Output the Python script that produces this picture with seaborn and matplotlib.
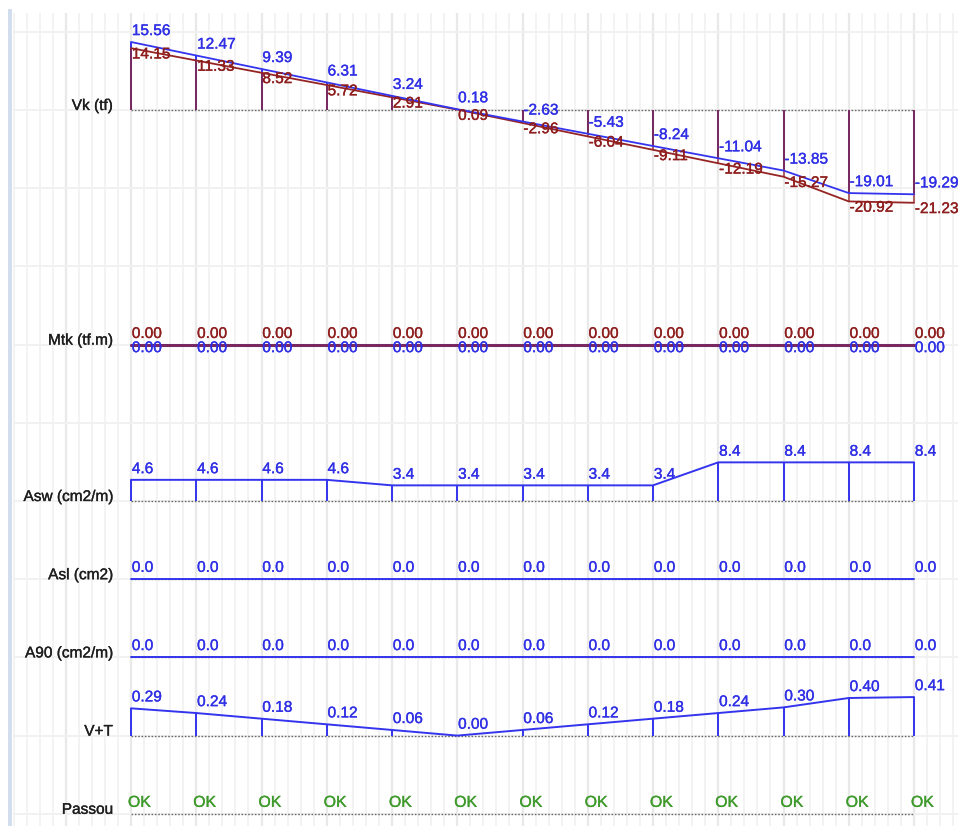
import matplotlib
matplotlib.use("Agg")
import matplotlib.pyplot as plt
import matplotlib.patheffects as pe
import seaborn as sns
import numpy as np
from matplotlib.patches import Rectangle

# ---------------- data ----------------
stations = [0, 1, 2, 3, 4, 5, 6, 7, 8, 9, 10, 11, 12]

vk_design = [15.56, 12.47, 9.39, 6.31, 3.24, 0.18, -2.63, -5.43, -8.24, -11.04, -13.85, -19.01, -19.29]
vk_char = [14.15, 11.33, 8.52, 5.72, 2.91, 0.09, -2.96, -6.04, -9.11, -12.19, -15.27, -20.92, -21.23]
mtk_design = [0.00, 0.00, 0.00, 0.00, 0.00, 0.00, 0.00, 0.00, 0.00, 0.00, 0.00, 0.00, 0.00]
mtk_char = [0.00, 0.00, 0.00, 0.00, 0.00, 0.00, 0.00, 0.00, 0.00, 0.00, 0.00, 0.00, 0.00]
asw = [4.6, 4.6, 4.6, 4.6, 3.4, 3.4, 3.4, 3.4, 3.4, 8.4, 8.4, 8.4, 8.4]
asl = [0.0, 0.0, 0.0, 0.0, 0.0, 0.0, 0.0, 0.0, 0.0, 0.0, 0.0, 0.0, 0.0]
a90 = [0.0, 0.0, 0.0, 0.0, 0.0, 0.0, 0.0, 0.0, 0.0, 0.0, 0.0, 0.0, 0.0]
v_plus_t = [0.29, 0.24, 0.18, 0.12, 0.06, 0.00, 0.06, 0.12, 0.18, 0.24, 0.30, 0.40, 0.41]
passou = ["OK", "OK", "OK", "OK", "OK", "OK", "OK", "OK", "OK", "OK", "OK", "OK", "OK"]

row_titles = ["Vk (tf)", "Mtk (tf.m)", "Asw (cm2/m)", "Asl (cm2)", "A90 (cm2/m)", "V+T", "Passou"]

# ---------------- layout (pixels) ----------------
W, H = 958, 826
X0_PX, DX_PX = 131.0, 65.25          # first station and station spacing
ROW_STEP = 78.2                      # spacing of horizontal guide lines
FIRST_BASE = 110.0                   # baseline of the first row
TITLE_X_PX = 113.0

XMIN = -X0_PX / DX_PX
XMAX = (W - X0_PX) / DX_PX

BLUE = "#3434ee"
BLUE_TXT = "#2f2fe6"
RED = "#962424"
RED_TXT = "#8e1d1d"
GREEN = "#3f9a2c"
DOT = "#6a6a6a"
FS = 11.1


def heavy(color):
    # slightly fuller glyphs, like screen-rendered Arial
    return [pe.withStroke(linewidth=0.25, foreground=color)]


sns.set_theme(style="white")
plt.rcParams["font.family"] = ["Liberation Sans", "DejaVu Sans"]

fig = plt.figure(figsize=(W / 100, H / 100), dpi=100)
fig.patch.set_facecolor("white")

# left frame strip
fig.patches.append(Rectangle((8 / W, 0), 3.5 / W, 1 - 9 / H, transform=fig.transFigure,
                             facecolor="#d2deee", edgecolor="none", zorder=0))

# background guide grid
bg_left = 13.0
bg = fig.add_axes([bg_left / W, 0, (W - bg_left) / W, (H - 13) / H])
bg.set_xlim((bg_left - X0_PX) / DX_PX, XMAX)
bg.set_ylim(H, 13)
bg.set_xticks(np.arange(-1, 13))
bg.set_xticks(np.round(np.arange(-1.8, 12.61, 0.2), 2), minor=True)
bg.set_yticks([FIRST_BASE + ROW_STEP * k for k in range(-1, 10)])
bg.grid(which="minor", axis="x", color="#f3f3f3", lw=1.4)
bg.grid(which="major", axis="x", color="#e9e9e9", lw=1.7)
bg.grid(which="major", axis="y", color="#f1f1f1", lw=1.4)
bg.tick_params(which="both", length=0, labelbottom=False, labelleft=False)
for sp in bg.spines.values():
    sp.set_visible(False)
bg.set_facecolor("none")


def row_axes(top, bot, base, ppu):
    ax = fig.add_axes([0, 1 - bot / H, 1, (bot - top) / H])
    ax.set_xlim(XMIN, XMAX)
    ax.set_ylim(-(bot - base) / ppu, (base - top) / ppu)
    ax.axis("off")
    ax.patch.set_alpha(0)
    return ax


def baseline(ax, color=DOT):
    ax.hlines(0, stations[0], stations[-1], colors=color, lw=1.0, linestyles=(0, (1.2, 1.2)), zorder=2)


def title(ax, text):
    ax.text((TITLE_X_PX - X0_PX) / DX_PX, 0, text, ha="right", va="baseline",
            fontsize=FS, color="#1e1e1e", path_effects=heavy("#1e1e1e"))


def labels(ax, values, fmt, color, dy, dx=0.6):
    for s, v in zip(stations, values):
        ax.annotate(fmt.format(v), xy=(s, v), xytext=(dx, dy), textcoords="offset points",
                    ha="left", va="baseline", color=color, fontsize=FS, zorder=6,
                    path_effects=heavy(color))


bases = [FIRST_BASE + ROW_STEP * k for k in (0, 3, 5, 6, 7, 8, 9)]

# ---- Vk ----
ax = row_axes(0, 267, bases[0], 4.37)
baseline(ax)
ax.vlines(stations, 0, vk_design, colors=BLUE, lw=1.4, zorder=3)
ax.vlines(stations, 0, vk_char, colors=RED, lw=1.4, alpha=0.7, zorder=3)
sns.lineplot(x=stations, y=vk_char, ax=ax, color=RED, lw=1.3, zorder=4, legend=False)
sns.lineplot(x=stations, y=vk_design, ax=ax, color=BLUE, lw=1.3, zorder=4, legend=False)
labels(ax, vk_design, "{:.2f}", BLUE_TXT, 5.0)
labels(ax, vk_char, "{:.2f}", RED_TXT, -7.4)
title(ax, row_titles[0])

# ---- Mtk ----
ax = row_axes(267, 423, bases[1], 4.4)
sns.lineplot(x=stations, y=mtk_design, ax=ax, color=BLUE, lw=2.2, zorder=4, legend=False)
sns.lineplot(x=stations, y=mtk_char, ax=ax, color=RED, lw=2.0, alpha=0.75, zorder=4, legend=False)
labels(ax, mtk_char, "{:.2f}", RED_TXT, 4.8)
labels(ax, mtk_design, "{:.2f}", BLUE_TXT, -5.4)
title(ax, row_titles[1])

# ---- Asw ----
ax = row_axes(423, 540, bases[2], 4.6)
baseline(ax)
ax.vlines(stations, 0, asw, colors=BLUE, lw=1.4, zorder=3)
sns.lineplot(x=stations, y=asw, ax=ax, color=BLUE, lw=1.4, zorder=4, legend=False)
labels(ax, asw, "{:.1f}", BLUE_TXT, 4.8)
title(ax, row_titles[2])

# ---- Asl ----
ax = row_axes(540, 620, bases[3], 4.6)
baseline(ax)
sns.lineplot(x=stations, y=asl, ax=ax, color=BLUE, lw=1.4, zorder=4, legend=False)
labels(ax, asl, "{:.1f}", BLUE_TXT, 5.3)
title(ax, row_titles[3])

# ---- A90 ----
ax = row_axes(620, 700, bases[4], 4.6)
baseline(ax)
sns.lineplot(x=stations, y=a90, ax=ax, color=BLUE, lw=1.4, zorder=4, legend=False)
labels(ax, a90, "{:.1f}", BLUE_TXT, 5.3)
title(ax, row_titles[4])

# ---- V+T ----
ax = row_axes(670, 760, bases[5], 94.0)
baseline(ax)
ax.vlines(stations, 0, v_plus_t, colors=BLUE, lw=1.4, zorder=3)
sns.lineplot(x=stations, y=v_plus_t, ax=ax, color=BLUE, lw=1.4, zorder=4, legend=False)
labels(ax, v_plus_t, "{:.2f}", BLUE_TXT, 5.0)
title(ax, row_titles[5])

# ---- Passou ----
ax = row_axes(760, 826, bases[6], 1.0)
baseline(ax)
for s, t in zip(stations, passou):
    ax.annotate(t, xy=(s, 0), xytext=(-2.2, 5.0), textcoords="offset points",
                ha="left", va="baseline", color=GREEN, fontsize=FS + 0.3, zorder=6,
                path_effects=heavy(GREEN))
title(ax, row_titles[6])

fig.savefig("out.png", dpi=100, facecolor="white")
